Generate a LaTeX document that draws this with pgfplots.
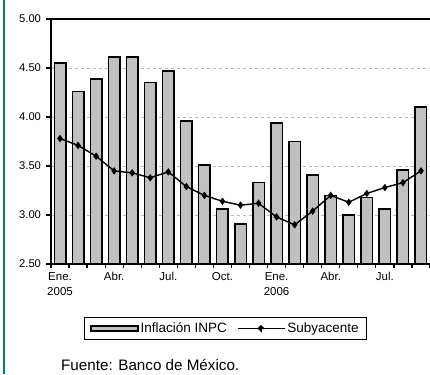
\documentclass[border=0pt]{standalone}
\usepackage{pgfplots}
\pgfplotsset{compat=1.18}
\usepackage{fontspec}
\setmainfont{Liberation Sans}
\definecolor{barg}{RGB}{192,192,192}
\definecolor{tealb}{RGB}{0,128,128}
\begin{document}
\begin{tikzpicture}[x=1pt,y=1pt]
\path[use as bounding box] (0,0) rectangle (430,374);
\draw[tealb, line width=2pt] (4,0) -- (4,374);
\begin{axis}[at={(51pt,110pt)}, anchor=south west, scale only axis,
  width=379pt, height=245pt,
  xmin=-0.5, xmax=20.5, ymin=2.5, ymax=5,
  axis x line=bottom, axis y line=left,
  axis line style={line width=1.6pt, -},
  tick align=outside, major tick length=4.5pt,
  tick style={black, line width=1.2pt},
  xtick={-0.5,0.5,...,20.5}, xticklabels={},
  extra x ticks={0,3,6,9,12,15,18},
  extra x tick labels={Ene.\\2005,Abr.,Jul.,Oct.,Ene.\\2006,Abr.,Jul.},
  extra x tick style={major tick length=0pt, tick style={draw=none}},
  xticklabel style={align=center, font=\fontsize{11.5}{15.5}\selectfont, yshift=-5pt},
  ytick={2.5,3,3.5,4,4.5,5},
  yticklabel style={font=\fontsize{11.2}{13}\selectfont, xshift=-2pt, /pgf/number format/.cd, fixed, fixed zerofill, precision=2},
  /pgf/number format/assume math mode=true,
  ymajorgrids, grid style={gray!55, dashed, line width=0.9pt},
  legend columns=2,
  legend style={at={(0.4604,-0.263)}, anchor=center, draw=black, line width=1.2pt,
    font=\fontsize{13.5}{15}\selectfont, inner xsep=6pt, inner ysep=3.5pt,
    /tikz/every even column/.append style={column sep=8pt}},
]
\addplot[ybar, bar width=11.5pt, fill=barg, draw=black, line width=1.5pt,
  legend image code/.code={\draw[fill=barg, draw=black, line width=1.2pt] (0pt,-2.5pt) rectangle (47pt,2.5pt);}]
coordinates {(0,4.55)(1,4.26)(2,4.39)(3,4.61)(4,4.61)(5,4.35)(6,4.47)(7,3.96)(8,3.51)(9,3.06)(10,2.91)
(11,3.33)(12,3.94)(13,3.75)(14,3.41)(15,3.20)(16,3.00)(17,3.18)(18,3.06)(19,3.46)(20,4.10)};
\addlegendentry{Inflación INPC}
\addplot[black, line width=1.4pt, mark=diamond*, mark size=2.6pt,
  legend image code/.code={\draw[black, line width=1.4pt] (0pt,0pt) -- (47pt,0pt); \fill (23.5pt,0pt) -- ++(2.6pt,0) -- ++(-2.6pt,2.6pt) -- ++(-2.6pt,-2.6pt) -- ++(2.6pt,-2.6pt) -- cycle;}]
coordinates {(0,3.78)(1,3.71)(2,3.60)(3,3.45)(4,3.43)(5,3.38)(6,3.44)(7,3.29)(8,3.20)(9,3.14)(10,3.10)
(11,3.12)(12,2.98)(13,2.90)(14,3.04)(15,3.20)(16,3.13)(17,3.22)(18,3.28)(19,3.33)(20,3.45)};
\addlegendentry{Subyacente}
\draw[black, line width=1.6pt] (rel axis cs:0,1) -- (rel axis cs:1,1);
\end{axis}
\node[anchor=west, font=\fontsize{15.2}{17}\selectfont, inner sep=0pt] at (61,9) {Fuente: Banco de México.};
\end{tikzpicture}
\end{document}
